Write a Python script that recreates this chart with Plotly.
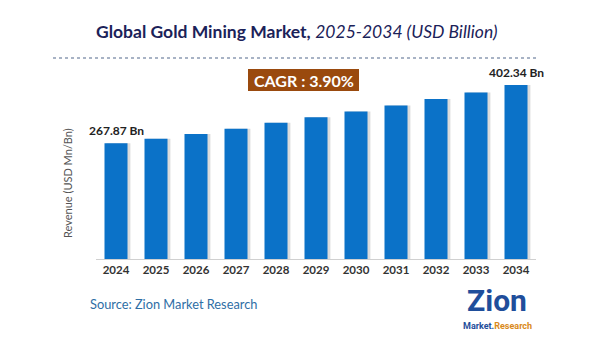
import plotly.graph_objects as go

years = ["2024", "2025", "2026", "2027", "2028", "2029", "2030", "2031", "2032", "2033", "2034"]
revenue = [267.87, 278, 289, 301, 315, 328, 341, 355, 370, 385, 402.34]
cagr_text = "CAGR : 3.90%"
title_main = "Global Gold Mining Market,"
title_sub = "2025-2034 (USD Billion)"
y_title = "Revenue (USD Mn/Bn)"
source_text = "Source: Zion Market Research"

W, H = 600, 338
FONT = "Lato"

def px(x):
    return x / W

def py(y):
    return 1 - y / H

fig = go.Figure()
# soft shadow
fig.add_trace(go.Bar(x=years, y=revenue, width=0.6, offset=-0.24,
                     marker=dict(color="rgba(90,90,90,0.22)", line=dict(width=0)),
                     hoverinfo="skip", showlegend=False))
fig.add_trace(go.Bar(x=years, y=revenue, width=0.575, offset=-0.2875,
                     marker=dict(color="#0b72c8", line=dict(width=0)),
                     showlegend=False))

last = len(years) - 1

def paper_text(x, y, text, font, xanchor="center", **kw):
    return dict(x=px(x), y=py(y), xref="paper", yref="paper", text=text, showarrow=False,
                xanchor=xanchor, yanchor="middle", font=font, **kw)

annotations = [
    dict(x=0, y=revenue[0], xref="x", yref="y", text=f"<b>{revenue[0]:.2f} Bn</b>",
         showarrow=False, xanchor="center", yanchor="bottom", yshift=3,
         font=dict(family=FONT, size=12, color="#222222")),
    dict(x=last, y=revenue[-1], xref="x", yref="y", text=f"<b>{revenue[-1]:.2f} Bn</b>",
         showarrow=False, xanchor="center", yanchor="bottom", yshift=3,
         font=dict(family=FONT, size=12, color="#222222")),
    paper_text(296.5, 31, f"<b>{title_main}</b> <i>{title_sub}</i>",
               dict(family=FONT, size=17.5, color="#1b2259")),
    paper_text(303.5, 80, f"<b>{cagr_text}</b>", dict(family=FONT, size=16, color="white")),
    paper_text(67, 183, y_title, dict(family=FONT, size=11, color="#555555"), textangle=-90),
    paper_text(88, 304, source_text, dict(family=FONT, size=12.8, color="#2f6ea5"), xanchor="left"),
    paper_text(497, 300, "<b>Zion</b>", dict(family="Roboto", size=30, color="#1f4e9b")),
    paper_text(497, 326,
               "<b><span style='color:#1f4e9b'>Market.</span><span style='color:#d98a1c'>Research</span></b>",
               dict(family="Roboto", size=9, color="#1f4e9b")),
]

shapes = [
    dict(type="line", xref="paper", yref="paper", x0=px(53), x1=px(537), y0=py(58), y1=py(58),
         line=dict(color="#8c9ab3", width=1.5, dash="dot")),
    dict(type="rect", xref="paper", yref="paper", x0=px(248), x1=px(359), y0=py(91), y1=py(69),
         fillcolor="#9a4a0e", line=dict(width=0)),
]

fig.update_layout(
    width=W, height=H,
    margin=dict(l=0, r=0, t=0, b=0),
    paper_bgcolor="white", plot_bgcolor="white",
    barmode="overlay",
    xaxis=dict(type="category", range=[-0.5, last + 0.5], domain=[px(96), px(536)],
               showline=True, linecolor="#d0d0d0", linewidth=1,
               showgrid=False, ticks="", tickfont=dict(family=FONT, size=11.5, color="#333333", weight="bold")),
    yaxis=dict(domain=[py(259), py(70)], range=[0, 437], showgrid=False, showticklabels=False,
               zeroline=False, showline=False),
    annotations=annotations,
    shapes=shapes,
)

fig.write_html("out.html")
